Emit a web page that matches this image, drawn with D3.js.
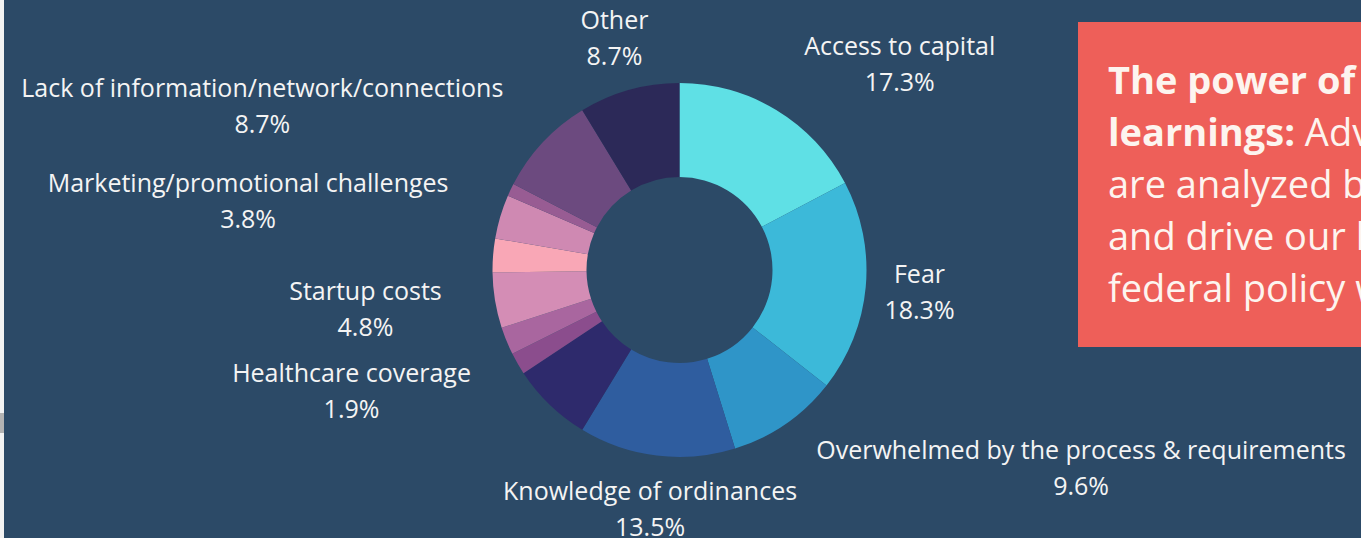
<!DOCTYPE html>
<html>
<head>
<meta charset="utf-8">
<script src="https://cdn.jsdelivr.net/npm/d3@7"></script>
<style>
  html, body { margin: 0; padding: 0; overflow: hidden; background: #2c4a67; }
  svg { display: block; }
  text { font-family: "Open Sans", "Noto Sans", sans-serif; }
</style>
</head>
<body>
<script>
// ---- data (clockwise from 12 o'clock) ----
const categories = [
  "Access to capital",
  "Fear",
  "Overwhelmed by the process & requirements",
  "Knowledge of ordinances",
  "",
  "Healthcare coverage",
  "",
  "Startup costs",
  "",
  "Marketing/promotional challenges",
  "",
  "Lack of information/network/connections",
  "Other"
];
const values = [17.3, 18.3, 9.6, 13.5, 7.0, 1.9, 2.4, 4.8, 2.9, 3.8, 1.1, 8.7, 8.7];
const colors = ["#5fe0e5", "#3cb9d9", "#2f95c8", "#2f5d9f", "#2e2a6c", "#8b4d8d",
                "#a9669f", "#d48db5", "#f9a7b6", "#cf89b2", "#985c93", "#6c4a7f", "#2c2958"];
const noteTitle = "The power of shared";
const noteLines = [
  [{t: "learnings:", b: true}, {t: " Advisor insights", b: false}],
  [{t: "are analyzed by our team", b: false}],
  [{t: "and drive our local and", b: false}],
  [{t: "federal policy work.", b: false}]
];

// ---- layout ----
const W = 1361, H = 538;
const cx = 679.5, cy = 270, rOuter = 187, rInner = 93, rLabel = 241;

const svg = d3.select("body").append("svg").attr("width", W).attr("height", H);
svg.append("rect").attr("width", W).attr("height", H).attr("fill", "#2c4a67");
// left page edge remnants
svg.append("rect").attr("x", 0).attr("y", 0).attr("width", 4).attr("height", H).attr("fill", "#f3f3f3");
svg.append("rect").attr("x", 0).attr("y", 413).attr("width", 4).attr("height", 20).attr("fill", "#b3b3b3");

const data = categories.map((c, i) => ({name: c, value: values[i], color: colors[i]}));
const pie = d3.pie().sort(null).value(d => d.value);
const arcs = pie(data);
const arc = d3.arc().innerRadius(rInner).outerRadius(rOuter);

const g = svg.append("g").attr("transform", `translate(${cx},${cy})`);
g.selectAll("path").data(arcs).join("path")
  .attr("d", arc)
  .attr("fill", d => d.data.color);

// labels: centred on a point beyond the ring; pushed outward if they would touch it
const lg = g.append("g");
arcs.filter(d => d.data.name).forEach(d => {
  const mid = (d.startAngle + d.endAngle) / 2;
  const px = rLabel * Math.sin(mid), py = -rLabel * Math.cos(mid);
  const t = lg.append("text")
    .attr("fill", "#f4f4f4")
    .attr("font-size", 25)
    .attr("text-anchor", "middle");
  const t1 = t.append("tspan").attr("x", px).attr("y", py - 9).text(d.data.name);
  const t2 = t.append("tspan").attr("x", px).attr("y", py + 27).text(d3.format(".1f")(d.value) + "%");
  const bb = t.node().getBBox();
  const nx = Math.max(bb.x, Math.min(0, bb.x + bb.width));
  const ny = Math.max(bb.y, Math.min(0, bb.y + bb.height));
  if (Math.hypot(nx, ny) < rOuter + 2) {
    const shift = (Math.sin(mid) > 0 ? 1 : -1) * bb.width / 2;
    t1.attr("x", px + shift);
    t2.attr("x", px + shift);
  }
});

// note box
const box = svg.append("g");
box.append("rect").attr("x", 1078).attr("y", 22).attr("width", 320).attr("height", 325).attr("fill", "#ee5f59");
const nt = box.append("text").attr("fill", "#fdf4ef").attr("font-size", 38);
nt.append("tspan").attr("x", 1108).attr("y", 94).attr("font-weight", 700).text(noteTitle);
noteLines.forEach((line, i) => {
  line.forEach((seg, j) => {
    const ts = nt.append("tspan").attr("font-weight", seg.b ? 700 : 400).text(seg.t);
    if (j === 0) ts.attr("x", 1108).attr("y", 146 + i * 52);
  });
});
</script>
</body>
</html>
